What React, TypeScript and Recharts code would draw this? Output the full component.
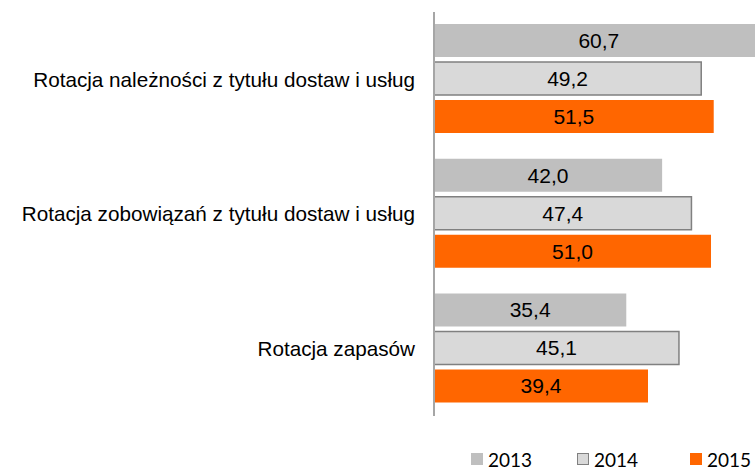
import { Bar, BarChart, LabelList, Legend, XAxis, YAxis } from "recharts";

const CATEGORIES = [
  "Rotacja należności z tytułu dostaw i usług",
  "Rotacja zobowiązań z tytułu dostaw i usług",
  "Rotacja zapasów",
];
const Y2013 = [60.7, 42.0, 35.4];
const Y2014 = [49.2, 47.4, 45.1];
const Y2015 = [51.5, 51.0, 39.4];

const SERIES = [
  { key: "y2013", name: "2013", fill: "#bfbfbf", stroke: "none" },
  { key: "y2014", name: "2014", fill: "#d9d9d9", stroke: "#808080" },
  { key: "y2015", name: "2015", fill: "#ff6600", stroke: "none" },
];

const data = CATEGORIES.map((name, i) => ({
  name,
  y2013: Y2013[i],
  y2014: Y2014[i],
  y2015: Y2015[i],
}));

const fmt = (v: any) => Number(v).toFixed(1).replace(".", ",");

const LegendContent = () => (
  <div style={{ position: "relative", height: 24, fontFamily: "Lato", fontSize: 19, color: "#000" }}>
    {SERIES.map((s, i) => (
      <div
        key={s.key}
        style={{
          position: "absolute",
          left: [471, 577, 690][i],
          top: 0,
          height: 24,
          display: "flex",
          alignItems: "center",
          gap: 5,
        }}
      >
        <span
          style={{
            display: "inline-block",
            width: s.stroke === "none" ? 12 : 10,
            height: s.stroke === "none" ? 12 : 10,
            background: s.fill,
            border: s.stroke === "none" ? "none" : `1px solid ${s.stroke}`,
          }}
        />
        <span>{s.name}</span>
      </div>
    ))}
  </div>
);

export default function App() {
  return (
    <div style={{ position: "absolute", left: 0, top: 0, width: 755, height: 471, background: "#fff" }}>
      <BarChart
        width={755}
        height={471}
        data={data}
        layout="vertical"
        margin={{ top: 12, right: 0, bottom: 31, left: 0 }}
        barCategoryGap="9%"
        barGap={5}
      >
        <XAxis type="number" hide domain={[0, 59.1]} allowDataOverflow />
        <YAxis
          type="category"
          dataKey="name"
          width={434}
          tickLine={false}
          tickSize={0}
          tickMargin={19}
          axisLine={{ stroke: "#a6a6a6", strokeWidth: 2 }}
          tick={{ fill: "#000", fontSize: 20.7, fontFamily: "Liberation Sans" }}
        />
        <Legend
          verticalAlign="bottom"
          align="left"
          wrapperStyle={{ left: 0, bottom: 0, width: 755 }}
          content={<LegendContent />}
        />
        {SERIES.map((s) => (
          <Bar
            key={s.key}
            dataKey={s.key}
            name={s.name}
            fill={s.fill}
            stroke={s.stroke}
            strokeWidth={s.stroke === "none" ? 0 : 1.5}
            isAnimationActive={false}
          >
            <LabelList
              dataKey={s.key}
              position="center"
              formatter={fmt}
              style={{ fill: "#000", fontSize: 21, fontFamily: "Liberation Sans" }}
            />
          </Bar>
        ))}
      </BarChart>
    </div>
  );
}
